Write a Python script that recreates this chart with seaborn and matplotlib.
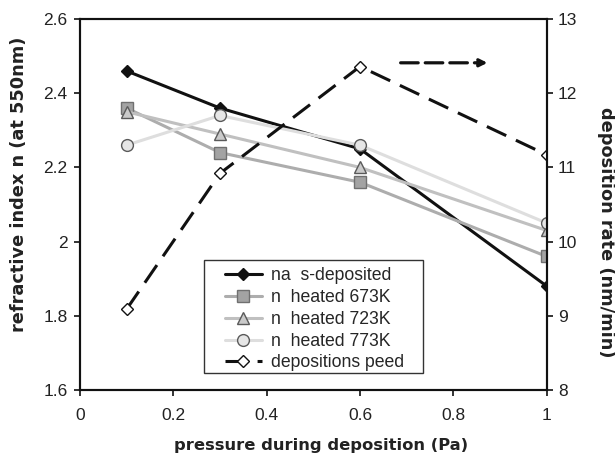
import matplotlib
matplotlib.use("Agg")
import matplotlib.pyplot as plt
from matplotlib.ticker import FuncFormatter
from matplotlib.patches import Rectangle
import seaborn as sns
import pandas as pd

pressure = [0.1, 0.3, 0.6, 1.0]
n_as_deposited = [2.46, 2.36, 2.25, 1.88]
n_673K = [2.36, 2.24, 2.16, 1.96]
n_723K = [2.35, 2.29, 2.20, 2.03]
n_773K = [2.26, 2.34, 2.26, 2.05]
dep_speed = [9.09, 10.92, 12.36, 11.17]

labels = ["na  s-deposited", "n  heated 673K", "n  heated 723K", "n  heated 773K", "depositions peed"]
x_ticks = [0, 0.2, 0.4, 0.6, 0.8, 1.0]
yl_ticks = [1.6, 1.8, 2.0, 2.2, 2.4, 2.6]
yr_ticks = [8, 9, 10, 11, 12, 13]

sns.set_style("white")
plt.rcParams['font.family'] = ['Liberation Sans', 'DejaVu Sans']

fig = plt.figure(figsize=(6.15, 4.53), dpi=100)
ax = fig.add_axes([0.130, 0.139, 0.759, 0.819])
ax2 = ax.twinx()

styles = [
    dict(y=n_as_deposited, color="#111111", marker="D", mfc="#111111", mec="#111111", ms=6.5),
    dict(y=n_673K, color="#adadad", marker="s", mfc="#a3a3a3", mec="#707070", ms=8.5),
    dict(y=n_723K, color="#c0c0c0", marker="^", mfc="#cacaca", mec="#5a5a5a", ms=8.5),
    dict(y=n_773K, color="#dedede", marker="o", mfc="#e6e6e6", mec="#5a5a5a", ms=8.5),
]
handles = []
for st, lab in zip(styles, labels[:4]):
    df = pd.DataFrame({"x": pressure, "y": st["y"]})
    sns.lineplot(data=df, x="x", y="y", ax=ax, color=st["color"], marker=st["marker"],
                 markerfacecolor=st["mfc"], markeredgecolor=st["mec"], markersize=st["ms"],
                 markeredgewidth=1.0, linewidth=2.2, label=lab, legend=False)
    handles.append(ax.lines[-1])

df2 = pd.DataFrame({"x": pressure, "y": dep_speed})
sns.lineplot(data=df2, x="x", y="y", ax=ax2, color="#111111", marker="D",
             markerfacecolor="white", markeredgecolor="#111111", markersize=6.5,
             markeredgewidth=1.0, linewidth=2.2, dashes=False, legend=False)
ln = ax2.lines[-1]
ln.set_dashes([7, 3.5])
ln.set_label(labels[4])
handles.append(ln)

# arrow indicating the right axis
ax2.annotate("", xy=(0.873, 12.41), xytext=(0.687, 12.41),
             arrowprops=dict(arrowstyle="-|>", color="#111111", lw=2.3,
                             linestyle=(0, (5.5, 2.2)), mutation_scale=11, shrinkA=0, shrinkB=0))

ax.set_xlim(0, 1)
ax.set_ylim(1.6, 2.6)
ax2.set_ylim(8, 13)
ax.set_xticks(x_ticks)
ax.set_yticks(yl_ticks)
ax2.set_yticks(yr_ticks)
fmt = FuncFormatter(lambda v, p: f"{v:g}")
ax.xaxis.set_major_formatter(fmt)
ax.yaxis.set_major_formatter(fmt)

for a in (ax, ax2):
    for s in a.spines.values():
        s.set_color("#111111")
        s.set_linewidth(1.5)
    a.tick_params(direction="out", length=4, width=1.2, colors="#111111",
                  labelsize=12.5, labelcolor="#222222")
ax.tick_params(axis="y", left=True, right=False, pad=5)
ax.tick_params(axis="x", bottom=True, pad=9)
ax2.tick_params(axis="y", right=True, pad=4)

lab_font = dict(family="DejaVu Sans", fontweight="bold", color="#222222")
ax.set_xlabel("pressure during deposition (Pa)", fontsize=11.8, **lab_font)
ax.xaxis.set_label_coords(0.516, -0.128)
ax.set_ylabel("refractive index n (at 550nm)", fontsize=12.8, **lab_font)
ax.yaxis.set_label_coords(-0.111, 0.555)
ax2.set_ylabel("deposition rate (nm/min)", fontsize=12.8, rotation=270, **lab_font)
ax2.yaxis.label.set_verticalalignment("bottom")
ax2.yaxis.set_label_coords(1.107, 0.426)

# legend frame
ax.add_patch(Rectangle((0.266, 0.046), 0.469, 0.305, transform=ax.transAxes,
                       facecolor="white", edgecolor="#333333", linewidth=1.0, zorder=4))
leg = ax.legend(handles=handles, labels=labels, loc="lower left", bbox_to_anchor=(0.31, 0.05),
                fontsize=12.7, frameon=False,
                handlelength=2.1, handletextpad=0.5, labelspacing=0.27, borderpad=0.0,
                borderaxespad=0.0)
leg.set_zorder(5)

fig.savefig("out.png", dpi=100)
